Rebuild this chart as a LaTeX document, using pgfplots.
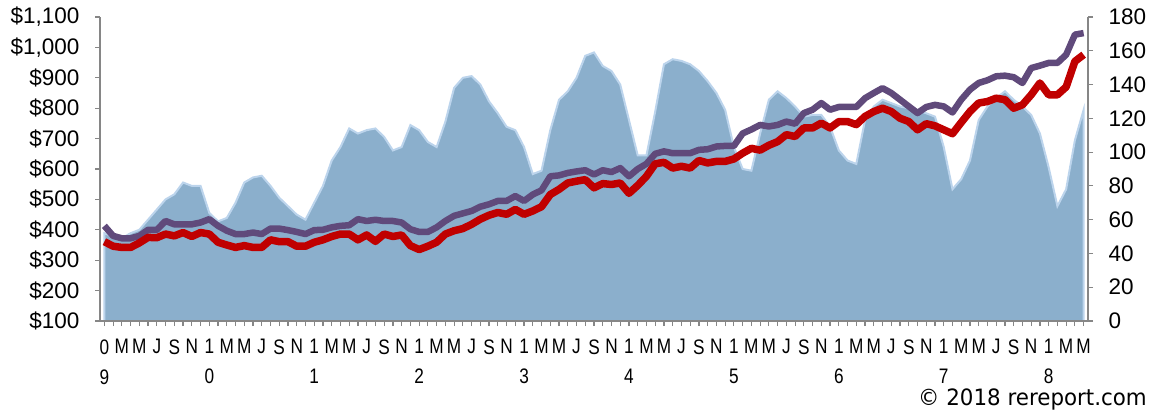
\documentclass[border=0pt]{standalone}
\usepackage{pgfplots}
\pgfplotsset{compat=1.18}
\usepackage{fontspec}
\setmainfont{Liberation Sans}
\newfontfamily\narrowfont[FakeStretch=0.82]{Liberation Sans}
\newfontfamily\copyfont[FakeStretch=0.95]{DejaVu Sans}
\definecolor{areafill}{RGB}{139,175,204}
\definecolor{areaedge}{RGB}{188,212,236}
\definecolor{purp}{RGB}{96,74,123}
\definecolor{redl}{RGB}{192,0,0}
\definecolor{axgrey}{RGB}{134,134,134}

\pgfplotstableread{
i a
0 52
1 50
2 49
3 52
4 54
5 60
6 66
7 72
8 75
9 82
10 80
11 80
12 64
13 59
14 61
15 70
16 82
17 85
18 86
19 80
20 73
21 68
22 63
23 60
24 70
25 80
26 95
27 103
28 114
29 111
30 113
31 114
32 109
33 101
34 103
35 116
36 113
37 106
38 103
39 118
40 138
41 144
42 145
43 140
44 130
45 123
46 115
47 113
48 103
49 87
50 89
51 113
52 131
53 136
54 144
55 157
56 159
57 151
58 148
59 140
60 119
61 98
62 98
63 124
64 152
65 155
66 154
67 152
68 148
69 142
70 135
71 125
72 103
73 90
74 89
75 111
76 131
77 136
78 132
79 127
80 121
81 122
82 122
83 115
84 101
85 95
86 93
87 119
88 127
89 131
90 129
91 127
92 126
93 125
94 123
95 121
96 103
97 78
98 84
99 95
100 119
101 127
102 132
103 136
104 131
105 127
106 122
107 111
108 91
109 68
110 78
111 107
112 125
}\areadata

\pgfplotstableread{
i p r
0 413 361
1 380 346
2 372 342
3 372 342
4 380 357
5 400 375
6 400 374
7 429 386
8 418 380
9 418 391
10 418 378
11 424 391
12 435 386
13 413 359
14 397 350
15 386 342
16 386 348
17 391 342
18 386 342
19 404 367
20 404 361
21 399 361
22 393 346
23 386 346
24 399 359
25 400 367
26 408 378
27 413 386
28 415 386
29 435 367
30 429 383
31 433 362
32 429 386
33 429 378
34 424 383
35 402 348
36 393 335
37 393 346
38 408 359
39 429 386
40 446 397
41 454 404
42 462 418
43 476 435
44 484 448
45 495 457
46 495 451
47 511 467
48 495 451
49 516 462
50 530 476
51 576 516
52 579 533
53 587 554
54 592 560
55 596 565
56 582 538
57 596 552
58 590 549
59 603 554
60 576 520
61 600 546
62 617 576
63 650 617
64 658 622
65 652 603
66 652 609
67 652 603
68 663 628
69 665 620
70 674 625
71 676 625
72 676 633
73 717 652
74 730 668
75 745 662
76 740 678
77 745 690
78 756 713
79 749 707
80 784 735
81 795 735
82 817 751
83 795 735
84 804 756
85 804 756
86 804 746
87 833 773
88 850 789
89 866 800
90 850 789
91 828 767
92 806 756
93 784 729
94 804 749
95 811 742
96 806 729
97 786 716
98 828 753
99 861 789
100 883 817
101 892 822
102 905 833
103 907 828
104 902 800
105 883 811
106 932 844
107 940 883
108 949 844
109 949 844
110 976 870
111 1042 954
112 1047 976
}\linedata

\begin{document}
\begin{tikzpicture}
\pgfplotsset{
  base/.style={
    width=988pt, height=304pt, scale only axis,
    xmin=-0.5, xmax=112.5,
    axis line style={-, axgrey, line width=1.5pt},
    tick style={axgrey, line width=1.2pt},
    tick align=outside,
    major tick length=5pt, minor tick length=5pt,
    /pgf/number format/assume math mode=true,
    ticklabel style={font=\fontsize{22.5}{26}\selectfont, text=black},
  }
}
\begin{axis}[base,
  axis x line=none,
  axis y line*=right,
  ymin=0, ymax=180,
  ytick={0,20,...,180},
  yticklabel style={xshift=12pt},
]
\addplot[fill=areafill, draw=areaedge, line width=2pt] table[x=i, y=a] {\areadata} \closedcycle;
\end{axis}
\begin{axis}[base,
  axis x line*=bottom,
  axis y line*=left,
  ymin=100, ymax=1100,
  ytick={100,200,...,1100},
  yticklabel={\$\pgfmathprintnumber[1000 sep={,}]{\tick}},
  yticklabel style={xshift=-12pt},
  xtick={0,2,...,112},
  minor xtick={1,3,...,111},
  xticklabels={{0\\9},M,M,J,S,N,{1\\0},M,M,J,S,N,{1\\1},M,M,J,S,N,{1\\2},M,M,J,S,N,{1\\3},M,M,J,S,N,{1\\4},M,M,J,S,N,{1\\5},M,M,J,S,N,{1\\6},M,M,J,S,N,{1\\7},M,M,J,S,N,{1\\8},M,M},
  xticklabel style={font=\narrowfont\fontsize{21}{30}\selectfont, align=center, anchor=north, yshift=-10pt},
]
\addplot[purp, line width=6.5pt, line join=round] table[x=i, y=p] {\linedata};
\addplot[redl, line width=7.5pt, line join=round] table[x=i, y=r] {\linedata};
\end{axis}
\node[anchor=base east, font=\copyfont\fontsize{22.5}{26}\selectfont, inner sep=0pt] at (1047pt,-84pt) {\textcopyright{} 2018 rereport.com};
\pgfresetboundingbox
\path[use as bounding box] (-100pt,-89pt) rectangle (1049pt,321pt);
\end{tikzpicture}
\end{document}
